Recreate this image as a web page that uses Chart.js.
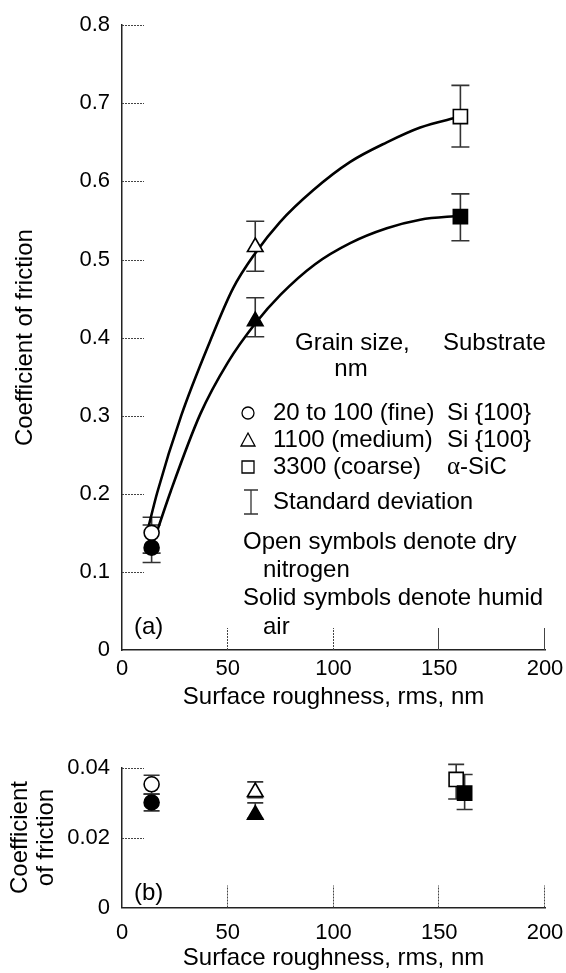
<!DOCTYPE html>
<html>
<head>
    <title>Coefficient of friction vs surface roughness</title>
    <script src="https://cdn.jsdelivr.net/npm/chart.js"></script>
    <style>
        body { margin: 0; background: #fff; }
        #wrapA { position: absolute; left: 0; top: 0; }
        #wrapB { position: absolute; left: 0; top: 730px; }
    </style>
</head>
<body>
    <div id="wrapA"><canvas id="chartA" width="566" height="720"></canvas></div>
    <div id="wrapB"><canvas id="chartB" width="566" height="243"></canvas></div>

    <script>
        // ---- values ----
        const xTicks = [0, 50, 100, 150, 200];
        const xLabels = ['0', '50', '100', '150', '200'];
        const yTicksA = [0, 0.1, 0.2, 0.3, 0.4, 0.5, 0.6, 0.7, 0.8];
        const yLabelsA = ['0', '0.1', '0.2', '0.3', '0.4', '0.5', '0.6', '0.7', '0.8'];
        const yTicksB = [0, 0.02, 0.04];
        const yLabelsB = ['0', '0.02', '0.04'];

        // marker order in every series: circle (fine), triangle (medium), square (coarse)
        const symbols = ['circle', 'triangle', 'rect'];

        // (a) open = dry nitrogen, solid = humid air
        const xOpenA = [14, 63, 160];
        const yOpenA = [0.150, 0.516, 0.683];
        const loOpenA = [0.124, 0.485, 0.644];
        const hiOpenA = [0.170, 0.549, 0.723];
        const xSolidA = [14, 63, 160];
        const ySolidA = [0.131, 0.421, 0.555];
        const loSolidA = [0.112, 0.401, 0.524];
        const hiSolidA = [0.160, 0.451, 0.584];

        // fitted curves
        const curveOpenX = [12, 16.7, 28, 41.6, 52.5, 63, 74.7, 90.5, 107.9, 125.2, 141, 160];
        const curveOpenY = [0.152, 0.202, 0.300, 0.395, 0.463, 0.508, 0.548, 0.589, 0.625, 0.650, 0.669, 0.683];
        const curveSolidX = [14, 23, 37, 50, 63, 75, 91.3, 107.9, 125.2, 141, 160];
        const curveSolidY = [0.131, 0.203, 0.302, 0.368, 0.418, 0.455, 0.494, 0.521, 0.540, 0.551, 0.556];

        // (b)
        const xOpenB = [14, 63, 158];
        const yOpenB = [0.0352, 0.0330, 0.0366];
        const loOpenB = [0.0324, 0.0314, 0.0310];
        const hiOpenB = [0.0378, 0.0359, 0.0409];
        const xSolidB = [14, 63, 162];
        const ySolidB = [0.0300, 0.0265, 0.0327];
        const loSolidB = [0.0276, 0.0255, 0.0280];
        const hiSolidB = [0.0324, 0.0299, 0.0380];

        // legend text
        const grainLabels = ['20 to 100 (fine)', '1100 (medium)', '3300 (coarse)'];
        const substrateLabels = ['Si {100}', 'Si {100}', 'α-SiC'];

        const FONT = '"Liberation Sans", Arial, Helvetica, sans-serif';
        const TXT = '24px ' + FONT;

        function pts(xs, ys) {
            return xs.map((x, i) => ({ x: x, y: ys[i] }));
        }

        // error bars, drawn under the markers
        const errorBars = {
            id: 'errorBars',
            beforeDatasetsDraw(chart, args, opts) {
                const { ctx, scales: { x, y } } = chart;
                ctx.save();
                ctx.strokeStyle = '#333';
                ctx.lineWidth = 1.6;
                chart.data.datasets.forEach(ds => {
                    if (!ds.errLo) return;
                    ds.data.forEach((p, i) => {
                        const px = x.getPixelForValue(p.x);
                        const y1 = y.getPixelForValue(ds.errLo[i]);
                        const y2 = y.getPixelForValue(ds.errHi[i]);
                        ctx.beginPath();
                        ctx.moveTo(px, y1); ctx.lineTo(px, y2);
                        ctx.moveTo(px - opts.cap, y1); ctx.lineTo(px + opts.cap, y1);
                        ctx.moveTo(px - opts.cap, y2); ctx.lineTo(px + opts.cap, y2);
                        ctx.stroke();
                    });
                });
                ctx.restore();
            }
        };

        // short tick marks pointing into the plot
        const innerTicks = {
            id: 'innerTicks',
            beforeDatasetsDraw(chart, args, opts) {
                const { ctx, chartArea: a, scales: { x, y } } = chart;
                ctx.save();
                ctx.lineWidth = 1;
                ctx.strokeStyle = '#444';
                y.ticks.forEach(t => {
                    if (t.value === 0) return;
                    const py = Math.round(y.getPixelForValue(t.value)) + 0.5;
                    ctx.setLineDash([2, 1]);
                    ctx.beginPath(); ctx.moveTo(a.left, py); ctx.lineTo(a.left + opts.len, py); ctx.stroke();
                });
                x.ticks.forEach(t => {
                    if (t.value === 0) return;
                    const px = Math.round(x.getPixelForValue(t.value)) - 0.5;
                    ctx.setLineDash(opts.solidX.includes(t.value) ? [] : [2, 1]);
                    ctx.beginPath(); ctx.moveTo(px, a.bottom); ctx.lineTo(px, a.bottom - opts.len); ctx.stroke();
                });
                ctx.restore();
            }
        };

        // free text of panel (a): key, notes, panel letter
        const notesA = {
            id: 'notesA',
            afterDraw(chart) {
                const ctx = chart.ctx;
                ctx.save();
                ctx.fillStyle = '#000';
                ctx.strokeStyle = '#000';
                ctx.textBaseline = 'middle';
                ctx.font = TXT;
                ctx.fillText('Grain size,', 295, 343);
                ctx.fillText('Substrate', 443, 343);
                ctx.textAlign = 'center';
                ctx.fillText('nm', 351, 369);
                ctx.textAlign = 'left';

                const rowY = [413, 440, 467];
                grainLabels.forEach((g, i) => {
                    ctx.fillText(g, 273, rowY[i]);
                    const s = substrateLabels[i];
                    if (s.startsWith('α')) {
                        ctx.font = '25px "Liberation Serif", "DejaVu Serif", serif';
                        ctx.fillText('α', 447, rowY[i]);
                        const w = ctx.measureText('α').width;
                        ctx.font = TXT;
                        ctx.fillText(s.slice(1), 447 + w, rowY[i]);
                    } else {
                        ctx.fillText(s, 447, rowY[i]);
                    }
                    // key symbol
                    ctx.lineWidth = 1.3;
                    ctx.beginPath();
                    const cx = 248, cy = rowY[i];
                    if (symbols[i] === 'circle') {
                        ctx.arc(cx, cy, 6, 0, Math.PI * 2);
                    } else if (symbols[i] === 'triangle') {
                        ctx.moveTo(cx, cy - 7); ctx.lineTo(cx + 7, cy + 6); ctx.lineTo(cx - 7, cy + 6); ctx.closePath();
                    } else {
                        ctx.rect(cx - 6, cy - 6, 12, 12);
                    }
                    ctx.stroke();
                });

                // standard deviation key
                ctx.lineWidth = 1.3;
                ctx.strokeStyle = '#333';
                ctx.beginPath();
                ctx.moveTo(251, 490); ctx.lineTo(251, 514);
                ctx.moveTo(244, 490); ctx.lineTo(258, 490);
                ctx.moveTo(244, 514); ctx.lineTo(258, 514);
                ctx.stroke();
                ctx.fillText('Standard deviation', 273, 502);

                ctx.fillText('Open symbols denote dry', 243, 542);
                ctx.fillText('nitrogen', 263, 570);
                ctx.fillText('Solid symbols denote humid', 243, 598);
                ctx.fillText('air', 263, 627);
                ctx.fillText('(a)', 134, 627);
                ctx.restore();
            }
        };

        const notesB = {
            id: 'notesB',
            afterDraw(chart) {
                const ctx = chart.ctx;
                ctx.save();
                ctx.fillStyle = '#000';
                ctx.textBaseline = 'middle';
                ctx.font = TXT;
                ctx.fillText('(b)', 134, 163);
                ctx.restore();
            }
        };

        function markerSet(xs, ys, lo, hi, filled, order) {
            return {
                data: pts(xs, ys),
                errLo: lo,
                errHi: hi,
                pointStyle: symbols,
                pointRadius: [7.5, 9, 10],
                pointBorderWidth: 1.6,
                pointBorderColor: '#000',
                pointBackgroundColor: filled ? '#000' : '#fff',
                order: order
            };
        }

        function curveSet(xs, ys) {
            return {
                data: pts(xs, ys),
                showLine: true,
                borderColor: '#000',
                borderWidth: 2.6,
                pointRadius: 0,
                cubicInterpolationMode: 'monotone',
                order: 5
            };
        }

        function makeOptions(yTicks, yLabels, yMax, xHeight, yTitle, yTitlePad, xTitlePad, tickPadX, padTop) {
            return {
                responsive: false,
                animation: false,
                events: [],
                layout: { padding: { top: padTop, right: 21, left: 0, bottom: 0 } },
                plugins: {
                    legend: { display: false },
                    tooltip: { enabled: false },
                    errorBars: { cap: 9 },
                    innerTicks: { len: 22, solidX: [] }
                },
                scales: {
                    x: {
                        type: 'linear',
                        min: 0, max: 200,
                        afterBuildTicks: s => { s.ticks = xTicks.map(v => ({ value: v })); },
                        afterFit: s => { s.height = xHeight; s.paddingLeft = 0; s.paddingRight = 0; },
                        grid: { drawOnChartArea: false, drawTicks: false },
                        border: { display: true, color: '#222', width: 1.5 },
                        ticks: {
                            padding: tickPadX,
                            color: '#000',
                            font: { family: FONT, size: 22 },
                            callback: (v, i) => xLabels[i]
                        },
                        title: {
                            display: true,
                            text: 'Surface roughness, rms, nm',
                            color: '#000',
                            font: { family: FONT, size: 24 },
                            padding: { top: 0, bottom: xTitlePad }
                        }
                    },
                    y: {
                        type: 'linear',
                        min: 0, max: yMax,
                        afterBuildTicks: s => { s.ticks = yTicks.map(v => ({ value: v })); },
                        afterFit: s => { s.width = 122; },
                        grid: { drawOnChartArea: false, drawTicks: false },
                        border: { display: true, color: '#222', width: 1.5 },
                        ticks: {
                            padding: 12,
                            color: '#000',
                            font: { family: FONT, size: 22 },
                            callback: (v, i) => yLabels[i]
                        },
                        title: {
                            display: true,
                            text: yTitle,
                            color: '#000',
                            font: { family: FONT, size: 24, lineHeight: 1.1 },
                            padding: { top: yTitlePad, bottom: 0 }
                        }
                    }
                }
            };
        }

        // panel (a)
        const optsA = makeOptions(yTicksA, yLabelsA, 0.8, 70, 'Coefficient of friction', 12, 8, 6, 16);
        optsA.plugins.innerTicks.solidX = [150, 200];
        new Chart(document.getElementById('chartA'), {
            type: 'scatter',
            data: {
                datasets: [
                    markerSet(xSolidA, ySolidA, loSolidA, hiSolidA, true, 0),
                    markerSet(xOpenA, yOpenA, loOpenA, hiOpenA, false, 1),
                    curveSet(curveOpenX, curveOpenY),
                    curveSet(curveSolidX, curveSolidY)
                ]
            },
            options: optsA,
            plugins: [errorBars, innerTicks, notesA]
        });

        // panel (b)
        const optsB = makeOptions(yTicksB, yLabelsB, 0.04, 65.5, ['Coefficient', 'of friction'], 7, 0, 12, 37.5);
        optsB.plugins.errorBars.cap = 8;
        new Chart(document.getElementById('chartB'), {
            type: 'scatter',
            data: {
                datasets: [
                    markerSet(xSolidB, ySolidB, loSolidB, hiSolidB, true, 0),
                    markerSet(xOpenB, yOpenB, loOpenB, hiOpenB, false, 1)
                ]
            },
            options: optsB,
            plugins: [errorBars, innerTicks, notesB]
        });
    </script>
</body>
</html>
